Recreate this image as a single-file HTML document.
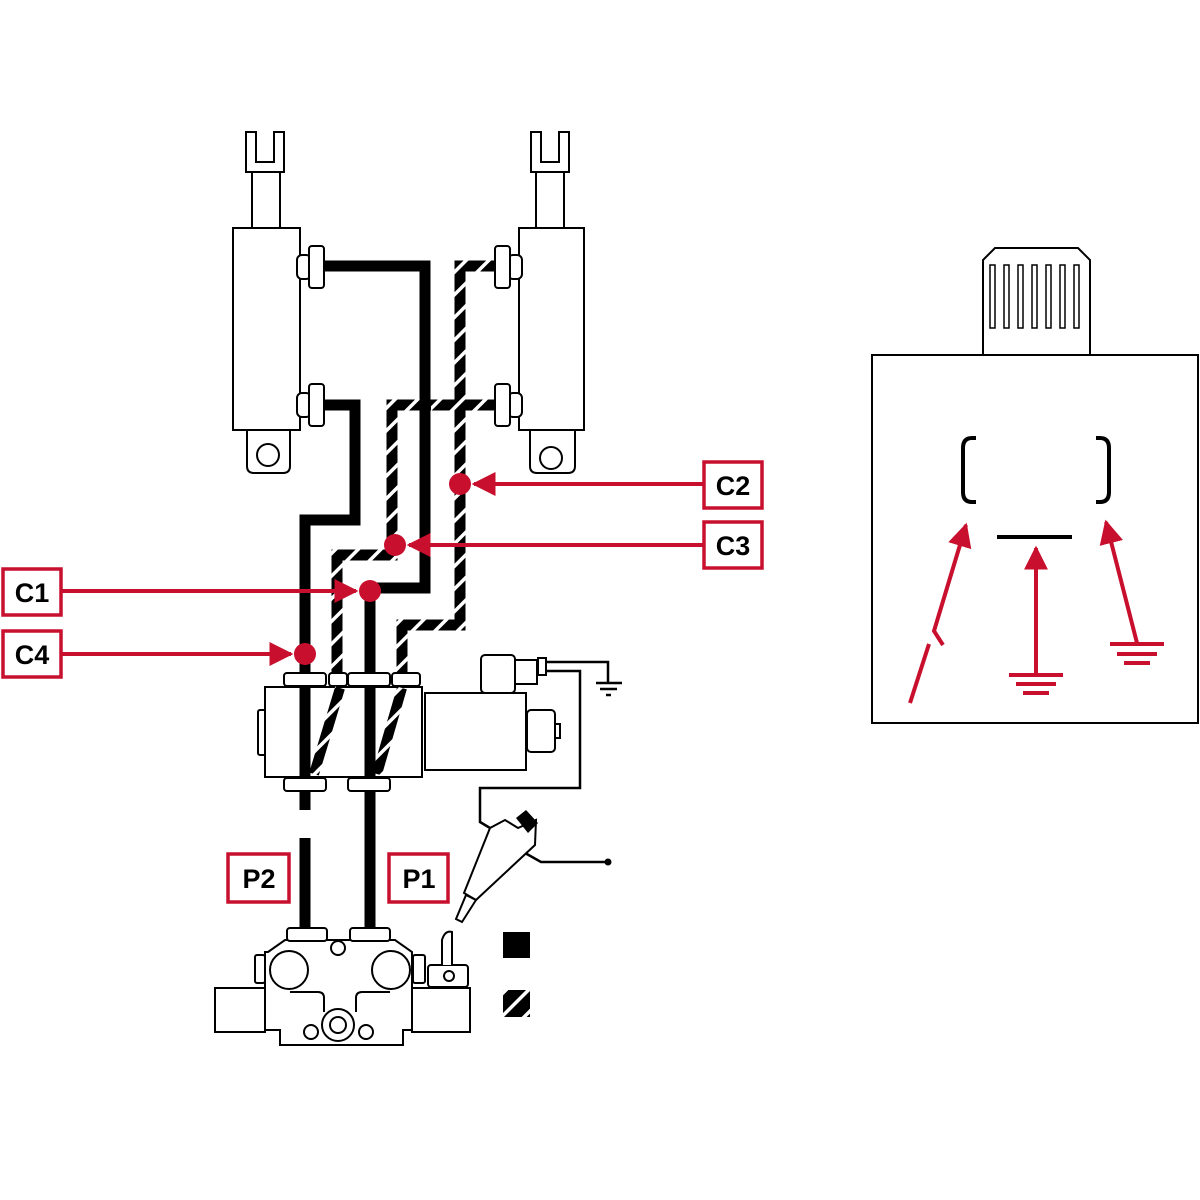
<!DOCTYPE html>
<html><head><meta charset="utf-8"><style>
html,body{margin:0;padding:0;background:#fff}
svg{display:block}
.lbl{font-family:"Liberation Sans",sans-serif;font-weight:bold;font-size:27px;fill:#000}
</style></head><body>
<svg width="1200" height="1200" viewBox="0 0 1200 1200" xmlns="http://www.w3.org/2000/svg">
<defs>
<pattern id="h" patternUnits="userSpaceOnUse" width="16" height="16" patternTransform="rotate(-45)">
<rect width="16" height="16" fill="#000"/><rect x="0" y="0" width="16" height="3.5" fill="#fff"/>
</pattern>
<marker id="ar" viewBox="0 0 10 10" refX="9" refY="5" markerWidth="6" markerHeight="6" orient="auto" markerUnits="strokeWidth">
<path d="M0,0 L10,5 L0,10 z" fill="#c8102e"/></marker>
</defs>
<g fill="#fff" stroke="#000" stroke-width="2">
<path d="M246,132 h10 v30 h18 v-30 h10 v40 h-38 z"/>
<rect x="252" y="172" width="28" height="56"/>
<rect x="233" y="228" width="67" height="202"/>
<path d="M247,430 h43 v36 q0,7 -7,7 h-29 q-7,0 -7,-7 z"/>
<circle cx="268" cy="455" r="11"/>
<rect x="297" y="255" width="14" height="24" rx="5"/>
<rect x="309" y="246" width="15" height="42" rx="3"/>
<rect x="297" y="393" width="14" height="24" rx="5"/>
<rect x="309" y="384" width="15" height="42" rx="3"/>
<path d="M531,132 h10 v30 h18 v-30 h10 v40 h-38 z"/>
<rect x="536" y="172" width="28" height="56"/>
<rect x="519" y="228" width="65" height="202"/>
<path d="M530,430 h45 v36 q0,7 -7,7 h-31 q-7,0 -7,-7 z"/>
<circle cx="551" cy="458" r="11"/>
<rect x="508" y="255" width="14" height="24" rx="5"/>
<rect x="495" y="246" width="15" height="42" rx="3"/>
<rect x="508" y="393" width="14" height="24" rx="5"/>
<rect x="495" y="384" width="15" height="42" rx="3"/>
</g>
<g fill="none" stroke-width="11" stroke-linejoin="miter">
<path d="M325,266 H425 V588 H370 V930" stroke="#000"/>
<path d="M325,405 H355 V520 H305 V810 M305,838 V930" stroke="#000"/>
<path d="M495,266 H460 V625 H402 V675" stroke="url(#h)"/>
<path d="M495,405 H392 V555 H337 V675" stroke="url(#h)"/>
<path d="M420,405 H431" stroke="#000"/>
</g>
<g fill="#fff" stroke="#000" stroke-width="2">
<rect x="258" y="710" width="8" height="45" rx="2"/>
<rect x="265" y="687" width="157" height="90"/>
<rect x="284" y="673" width="42" height="13" rx="3"/>
<rect x="329" y="673" width="18" height="13" rx="3"/>
<rect x="348" y="673" width="42" height="13" rx="3"/>
<rect x="392" y="673" width="28" height="13" rx="3"/>
<rect x="284" y="778" width="42" height="13" rx="3"/>
<rect x="348" y="778" width="42" height="13" rx="3"/>
<rect x="425" y="693" width="101" height="77"/>
<rect x="481" y="655" width="34" height="38" rx="4"/>
<rect x="515" y="660" width="22" height="24"/>
<rect x="538" y="658" width="8" height="17"/>
<rect x="527" y="710" width="28" height="42" rx="4"/>
<rect x="555" y="724" width="5" height="14"/>
</g>
<path d="M340,688 L314,774 M402,688 L377,774" stroke="url(#h)" stroke-width="10" fill="none"/>
<g stroke="#000" stroke-width="11"><path d="M305,688 V776 M370,688 V776"/></g>
<g fill="none" stroke="#000" stroke-width="2.5">
<path d="M546,662 H608 V682 M596,683 H622 M600,689 H617 M606,695 H611"/>
<path d="M546,671 H580 V788 H480 V822 L500,834"/>
<path d="M508,836 L525,853 L541,862 H608"/>
</g>
<circle cx="608" cy="862" r="3.5"/>
<g fill="#fff" stroke="#000" stroke-width="2">
<path d="M490,828 L505,820 L518,828 L536,820 L535,845 L476,900 L464,893 Z"/>
<path d="M476,900 L462,922 L456,919 L466,895 Z"/>
</g>
<path d="M516,818 L526,810 L538,823 L528,833 Z" fill="#000"/>
<g fill="#fff" stroke="#000" stroke-width="2">
<path d="M215,988 h50 v44 h-50 z"/>
<path d="M412,988 h58 v44 h-58 z"/>
<path d="M268,952 L285,940 H395 L412,952 V1030 H403 V1045 H280 V1030 H265 V952 Z"/>
<rect x="287" y="928" width="40" height="13" rx="3"/>
<rect x="350" y="928" width="40" height="13" rx="3"/>
<circle cx="289" cy="970" r="19"/>
<circle cx="391" cy="970" r="19"/>
<circle cx="338" cy="948" r="7"/>
<path d="M290,992 h28 q6,0 6,6 v14 M390,992 h-28 q-6,0 -6,6 v14"/>
<circle cx="338" cy="1025" r="16"/><circle cx="338" cy="1025" r="8"/>
<circle cx="311" cy="1032" r="7"/><circle cx="366" cy="1032" r="7"/>
<rect x="255" y="955" width="10" height="28" rx="2"/>
<rect x="413" y="955" width="12" height="28" rx="2"/>
<rect x="428" y="965" width="40" height="22" rx="3"/>
<path d="M442,965 V940 q3,-10 10,-8 V965"/>
<circle cx="449" cy="976" r="5"/>
</g>
<rect x="503" y="932" width="27" height="26" fill="#000"/>
<rect x="503" y="990" width="27" height="27" fill="url(#h)"/>
<g stroke="#c8102e" stroke-width="4" fill="none">
<path d="M703,484 H474" marker-end="url(#ar)"/>
<path d="M703,545 H409" marker-end="url(#ar)"/>
<path d="M62,591 H356" marker-end="url(#ar)"/>
<path d="M62,654 H291" marker-end="url(#ar)"/>
</g>
<g fill="#c8102e">
<circle cx="460" cy="484" r="11"/><circle cx="395" cy="545" r="11"/>
<circle cx="370" cy="591" r="11"/><circle cx="305" cy="654" r="11"/>
</g>
<g fill="#fff" stroke="#c8102e" stroke-width="3.5">
<rect x="3" y="569" width="58" height="46"/><rect x="3" y="631" width="58" height="46"/>
<rect x="704" y="462" width="58" height="46"/><rect x="704" y="522" width="58" height="46"/>
<rect x="228" y="854" width="61" height="48"/><rect x="389" y="854" width="59" height="48"/>
</g>
<text class="lbl" x="32" y="602" text-anchor="middle">C1</text>
<text class="lbl" x="32" y="664" text-anchor="middle">C4</text>
<text class="lbl" x="733" y="495" text-anchor="middle">C2</text>
<text class="lbl" x="733" y="555" text-anchor="middle">C3</text>
<text class="lbl" x="259" y="888" text-anchor="middle">P2</text>
<text class="lbl" x="419" y="888" text-anchor="middle">P1</text>
<g fill="#fff" stroke="#000" stroke-width="2">
<path d="M983,355 V260 L995,248 H1078 L1090,260 V355"/>
<rect x="872" y="355" width="326" height="368"/>
</g>
<g fill="none" stroke="#000" stroke-width="1.5">
<rect x="990" y="265" width="5" height="63"/><rect x="1004" y="265" width="5" height="63"/>
<rect x="1018" y="265" width="5" height="63"/><rect x="1032" y="265" width="5" height="63"/>
<rect x="1046" y="265" width="5" height="63"/><rect x="1060" y="265" width="5" height="63"/>
<rect x="1074" y="265" width="5" height="63"/>
</g>
<g fill="none" stroke="#000" stroke-width="4">
<path d="M976,438 H972 q-9,0 -9,10 V492 q0,10 9,10 H976"/>
<path d="M1096,438 H1100 q9,0 9,10 V492 q0,10 -9,10 H1096"/>
<path d="M997,537 H1072"/>
</g>
<g stroke="#c8102e" stroke-width="4" fill="none">
<path d="M910,703 L929,644"/>
<path d="M943,645 L934,631 L966,525" marker-end="url(#ar)"/>
<path d="M1036,675 V548" marker-end="url(#ar)"/>
<path d="M1137,643 L1106,522" marker-end="url(#ar)"/>
<path d="M1009,675 H1063 M1016,684 H1056 M1023,693 H1049"/>
<path d="M1110,644 H1164 M1117,654 H1157 M1124,663 H1150"/>
</g>
</svg>
</body></html>
